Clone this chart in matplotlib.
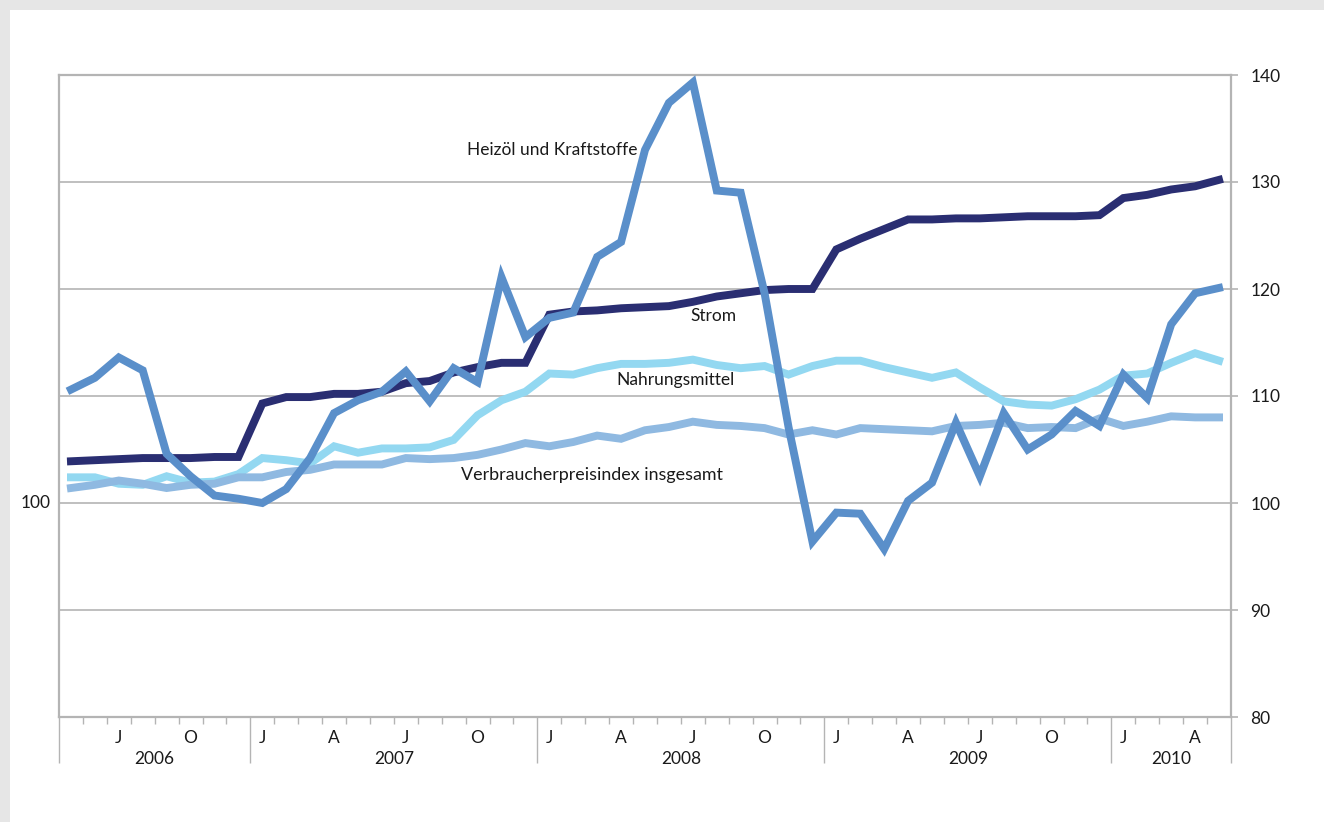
import numpy as np
import matplotlib.pyplot as plt
import matplotlib.transforms as mtransforms
from matplotlib.patches import Rectangle

plt.rcParams['font.family'] = ['Lato', 'DejaVu Sans']

# monthly index values, May 2006 .. May 2010
heizoel = [110.6, 111.7, 113.6, 112.4, 104.6, 102.5, 100.7, 100.4,
           100.0, 101.3, 104.2, 108.4, 109.6, 110.4, 112.3, 109.5, 112.6, 111.3, 121.1, 115.5,
           117.3, 117.8, 123.0, 124.4, 133.0, 137.4, 139.3, 129.2, 129.0, 119.6, 107.1, 96.4,
           99.1, 99.0, 95.7, 100.2, 101.9, 107.5, 102.5, 108.4, 105.0, 106.4, 108.6, 107.2,
           112.0, 109.8, 116.7, 119.6, 120.1]
strom = [103.9, 104.0, 104.1, 104.2, 104.2, 104.2, 104.3, 104.3,
         109.3, 109.9, 109.9, 110.2, 110.2, 110.4, 111.2, 111.4, 112.2, 112.7, 113.1, 113.1,
         117.6, 117.9, 118.0, 118.2, 118.3, 118.4, 118.8, 119.3, 119.6, 119.9, 120.0, 120.0,
         123.7, 124.7, 125.6, 126.5, 126.5, 126.6, 126.6, 126.7, 126.8, 126.8, 126.8, 126.9,
         128.5, 128.8, 129.3, 129.6, 130.2]
nahrung = [102.4, 102.4, 101.8, 101.7, 102.5, 101.9, 102.0, 102.7,
           104.2, 104.0, 103.7, 105.3, 104.7, 105.1, 105.1, 105.2, 105.9, 108.2, 109.6, 110.4,
           112.1, 112.0, 112.6, 113.0, 113.0, 113.1, 113.4, 112.9, 112.6, 112.8, 112.0, 112.8,
           113.3, 113.3, 112.7, 112.2, 111.7, 112.2, 110.8, 109.5, 109.2, 109.1, 109.7, 110.6,
           111.9, 112.1, 113.1, 114.0, 113.3]
vpi = [101.4, 101.7, 102.1, 101.8, 101.4, 101.7, 101.8, 102.4,
       102.4, 102.9, 103.1, 103.6, 103.6, 103.6, 104.2, 104.1, 104.2, 104.5, 105.0, 105.6,
       105.3, 105.7, 106.3, 106.0, 106.8, 107.1, 107.6, 107.3, 107.2, 107.0, 106.4, 106.8,
       106.4, 107.0, 106.9, 106.8, 106.7, 107.2, 107.3, 107.5, 107.0, 107.1, 107.0, 107.9,
       107.2, 107.6, 108.1, 108.0, 108.0]

years = ['2006', '2007', '2008', '2009', '2010']
year_months = [8, 12, 12, 12, 5]   # months shown per year
first_month = 5                    # May 2006
month_letters = {1: 'J', 4: 'A', 7: 'J', 10: 'O'}
right_ticks = [80, 90, 100, 110, 120, 130, 140]

n = len(heizoel)
x = np.arange(n)

fig = plt.figure(figsize=(13.24, 8.22), dpi=100)
fig.patch.set_facecolor('#e6e6e6')
fig.add_artist(Rectangle((10 / 1324, 0), 1, 1 - 10 / 822, transform=fig.transFigure,
                         facecolor='white', edgecolor='none', zorder=0))

ax = fig.add_axes([59 / 1324, 1 - 717 / 822, (1231 - 59) / 1324, (717 - 75) / 822])
ax.set_facecolor('white')

lw = 5.7
ax.plot(x, nahrung, color='#93d8f1', lw=lw, solid_joinstyle='miter', zorder=3)
ax.plot(x, vpi, color='#8fb9e1', lw=lw, solid_joinstyle='miter', zorder=4)
ax.plot(x, strom, color='#2a2e72', lw=lw, solid_joinstyle='miter', zorder=5)
ax.plot(x, heizoel, color='#5a8fca', lw=lw, solid_joinstyle='miter', zorder=6)

ax.set_xlim(-0.5, n - 0.5)
ax.set_ylim(80, 140)

grid_c = '#b4b4b4'
for s in ax.spines.values():
    s.set_color(grid_c)
    s.set_linewidth(1.6)
for v in right_ticks[1:-1]:
    ax.axhline(v, color=grid_c, lw=1.2, zorder=1)

# y axis on the right, single label on the left
ax.yaxis.tick_right()
ax.set_yticks(right_ticks)
ax.set_yticklabels([str(v) for v in right_ticks])
ax.tick_params(axis='y', which='major', length=5, width=1.2, color=grid_c,
               labelsize=12.5, pad=9, labelcolor='#1a1a1a')
ax.text(-0.007, 100, '100', transform=mtransforms.blended_transform_factory(ax.transAxes, ax.transData),
        ha='right', va='center', fontsize=12.5, color='#1a1a1a')

# x axis: month ticks at boundaries, long ticks at year boundaries
bounds = np.arange(n + 1) - 0.5
year_bounds = np.concatenate([[0], np.cumsum(year_months)]) - 0.5
ax.set_xticks(year_bounds)
ax.set_xticklabels([])
ax.set_xticks(bounds, minor=True)
ax.tick_params(axis='x', which='major', length=33, width=1.0, color=grid_c, direction='out')
ax.tick_params(axis='x', which='minor', length=5, width=1.0, color=grid_c, direction='out')

tr = mtransforms.blended_transform_factory(ax.transData, ax.transAxes)
for i in range(n):
    m = (first_month - 1 + i) % 12 + 1
    if m in month_letters:
        ax.text(i, -0.033, month_letters[m], transform=tr, ha='center', va='center',
                fontsize=12.5, color='#1a1a1a')
for k, yr in enumerate(years):
    cx = (year_bounds[k] + year_bounds[k + 1]) / 2
    ax.text(cx, -0.066, yr, transform=tr, ha='center', va='center', fontsize=12.5, color='#1a1a1a')

# series labels
lab = dict(fontsize=12.5, color='#1a1a1a', va='center', ha='left', zorder=7)
ax.text(16.55, 133.0, 'Heizöl und Kraftstoffe', **lab)
ax.text(25.9, 117.5, 'Strom', **lab)
ax.text(22.8, 111.5, 'Nahrungsmittel', **lab)
ax.text(16.3, 102.6, 'Verbraucherpreisindex insgesamt', fontsize=12.9, color='#1a1a1a',
        va='center', ha='left', zorder=7)

fig.savefig('out.png', dpi=100, facecolor=fig.get_facecolor())
